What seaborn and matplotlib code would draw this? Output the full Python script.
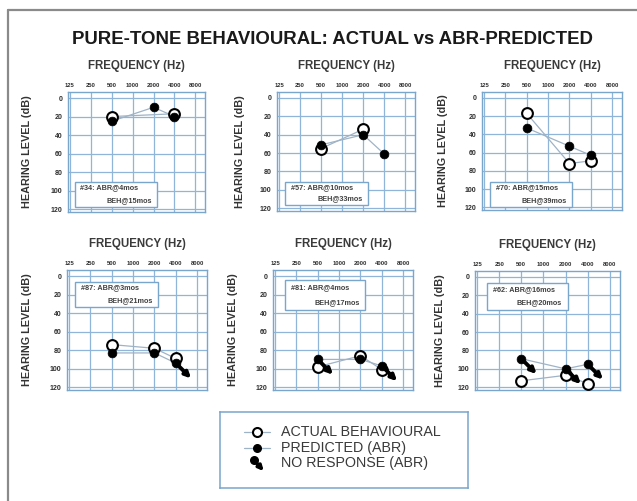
import matplotlib
matplotlib.use("Agg")
import matplotlib.pyplot as plt
import pandas as pd
import seaborn as sns
from matplotlib.text import OffsetFrom
from matplotlib.patches import Rectangle
from matplotlib.lines import Line2D

# ---------------- data ----------------
freqs = [125, 250, 500, 1000, 2000, 4000, 8000]
freq_labels = ["125", "250", "500", "1000", "2000", "4000", "8000"]
db_ticks = [0, 20, 40, 60, 80, 100, 120]

case_labels = ["#34: ABR@4mos", "#57: ABR@10mos", "#70: ABR@15mos",
               "#87: ABR@3mos", "#81: ABR@4mos", "#62: ABR@16mos"]
beh_labels = ["BEH@15mos", "BEH@33mos", "BEH@39mos",
              "BEH@21mos", "BEH@17mos", "BEH@20mos"]

# actual behavioural thresholds (open circles)
actual_freq = [[500, 4000], [500, 2000], [500, 2000, 4000],
               [500, 2000, 4000], [500, 2000, 4000], [500, 2000, 4000]]
actual_db = [[20, 17], [55, 34], [17, 72, 69],
             [74, 78, 89], [98, 86, 101], [113, 107, 116]]

# ABR-predicted thresholds (filled circles)
pred_freq = [[500, 2000, 4000]] * 6
pred_db = [[25, 10, 20], [51, 40, 61], [33, 53, 63],
           [83, 83, 94], [90, 90, 97], [89, 100, 95]]

# predicted points where the ABR gave no response
no_response_freq = [[], [], [], [4000], [500, 4000], [500, 2000, 4000]]

legend_labels = ["ACTUAL BEHAVIOURAL", "PREDICTED (ABR)", "NO RESPONSE (ABR)"]

# ---------------- style ----------------
W, H = 637, 501
GRID = "#8fb6d8"
FRAME = "#7aa5cc"
LINK = "#9fb3c6"
TXT = "#2e2e2e"
PLAIN = ["Liberation Sans", "DejaVu Sans"]

sns.set_theme(style="white")
plt.rcParams["font.family"] = PLAIN


def px_box(l, t, r, b):
    return [l / W, 1 - b / H, (r - l) / W, (b - t) / H]


panel_px = [(68, 92, 205, 212), (277, 92, 415, 211), (482, 92, 622, 210),
            (67, 270, 207, 390), (273, 270, 413, 390), (475, 271, 620, 390)]
note_px = [(75, 182, 157, 207), (285, 182, 368, 205), (490, 182, 572, 207),
           (75, 282, 158, 307), (285, 280, 365, 310), (487, 283, 568, 310)]
ylabel_x_px = [32, 245, 448, 32, 238, 445]

fig = plt.figure(figsize=(W / 100, H / 100), dpi=100)
fig.patch.set_facecolor("white")

# slide frame (top and left edges)
fig.add_artist(Line2D([8 / W, 1.0], [1 - 10 / H, 1 - 10 / H], color="#8a8a8a", lw=1.6))
fig.add_artist(Line2D([8 / W, 8 / W], [1 - 10 / H, 0.0], color="#8a8a8a", lw=1.6))

fig.text(332 / W, 1 - 40 / H, "PURE-TONE BEHAVIOURAL: ACTUAL vs ABR-PREDICTED",
         ha="center", va="center", fontsize=13.4, fontweight="bold",
         color="#1a1a1a")


def draw_no_response(ax, f, db, dx=11, dy=-11, lw=2.8, ms=8):
    ax.annotate("", xy=(dx, dy),
                xycoords=OffsetFrom(ax.transData, (f, db), unit="points"),
                xytext=(f, db), textcoords="data",
                arrowprops=dict(arrowstyle="-|>", color="black", lw=lw,
                                shrinkA=0, shrinkB=0, mutation_scale=ms),
                zorder=6)


for i, (l, t, r, b) in enumerate(panel_px):
    ax = fig.add_axes(px_box(l, t, r, b))
    axw, axh = r - l, b - t
    ax.set_xscale("log", base=2)
    ax.set_xlim(117, 11000)
    ax.set_ylim(123, -6.5)
    ax.set_xticks(freqs)
    ax.set_xticklabels(freq_labels)
    ax.minorticks_off()
    ax.set_yticks(db_ticks)
    ax.xaxis.tick_top()
    ax.tick_params(axis="x", length=0, labelsize=4.2, pad=3, labelcolor=TXT)
    ax.tick_params(axis="y", length=0, labelsize=5, pad=4, labelcolor=TXT)
    for lab in ax.get_xticklabels() + ax.get_yticklabels():
        lab.set_fontweight("bold")
    ax.grid(True, color=GRID, lw=0.9)
    for sp in ax.spines.values():
        sp.set_color(FRAME)
        sp.set_linewidth(1.0)

    dfa = pd.DataFrame({"freq": actual_freq[i], "db": actual_db[i]})
    dfp = pd.DataFrame({"freq": pred_freq[i], "db": pred_db[i]})

    sns.lineplot(data=dfa, x="freq", y="db", ax=ax, color=LINK, lw=0.9,
                 sort=False, zorder=3)
    sns.lineplot(data=dfp, x="freq", y="db", ax=ax, color=LINK, lw=0.9,
                 sort=False, zorder=3)
    sns.scatterplot(data=dfa, x="freq", y="db", ax=ax, s=60, marker="o",
                    facecolor="white", edgecolor="black", linewidth=1.5,
                    zorder=4)
    sns.scatterplot(data=dfp, x="freq", y="db", ax=ax, s=40, marker="o",
                    color="black", edgecolor="black", linewidth=0.5,
                    zorder=5)
    for f in no_response_freq[i]:
        db = pred_db[i][pred_freq[i].index(f)]
        draw_no_response(ax, f, db)

    ax.set_xlabel("")
    ax.set_ylabel("HEARING LEVEL (dB)", fontsize=7.8, fontweight="bold",
                  color="#333333")
    ax.yaxis.set_label_coords(-(l - ylabel_x_px[i]) / axw, 0.5)
    ax.text(0.5, 1 + 26 / axh, "FREQUENCY (Hz)", transform=ax.transAxes,
            ha="center", va="center", fontsize=8.3, fontweight="bold",
            color="#3a3a3a")

    # case note box
    nl, nt, nr, nb = note_px[i]
    x0, x1 = (nl - l) / axw, (nr - l) / axw
    y0, y1 = (b - nb) / axh, (b - nt) / axh
    ax.add_patch(Rectangle((x0, y0), x1 - x0, y1 - y0, transform=ax.transAxes,
                           facecolor="white", edgecolor=FRAME, lw=1.0,
                           zorder=2))
    ax.text(x0 + 0.04, y0 + (y1 - y0) * 0.76, case_labels[i],
            transform=ax.transAxes, ha="left", va="center", fontsize=5.2,
            fontweight="bold", color="#404040", zorder=3)
    ax.text(x1 - 0.04, y0 + (y1 - y0) * 0.26, beh_labels[i],
            transform=ax.transAxes, ha="right", va="center", fontsize=5.2,
            fontweight="bold", color="#404040", zorder=3)

# ---------------- legend ----------------
lax = fig.add_axes(px_box(220, 412, 468, 488))
lax.set_xlim(220, 468)
lax.set_ylim(488, 412)
lax.set_xticks([])
lax.set_yticks([])
for sp in lax.spines.values():
    sp.set_color(FRAME)
    sp.set_linewidth(1.1)

rows_y = [432, 448, 463]
lax.plot([244, 270], [rows_y[0]] * 2, color=LINK, lw=0.9, zorder=2)
lax.plot([244, 270], [rows_y[1]] * 2, color=LINK, lw=0.9, zorder=2)
lax.scatter([257], [rows_y[0]], s=42, facecolor="white", edgecolor="black",
            linewidth=1.5, zorder=3)
lax.scatter([257], [rows_y[1]], s=30, color="black", zorder=3)
lax.scatter([254], [rows_y[2] - 3], s=30, color="black", zorder=3)
draw_no_response(lax, 254, rows_y[2] - 3, dx=7, dy=-8, lw=2.5, ms=7)
for y, lab in zip(rows_y, legend_labels):
    lax.text(281, y, lab, ha="left", va="center", fontsize=10.3, color="#3a3a3a")

fig.savefig("out.png", dpi=100, facecolor="white")
